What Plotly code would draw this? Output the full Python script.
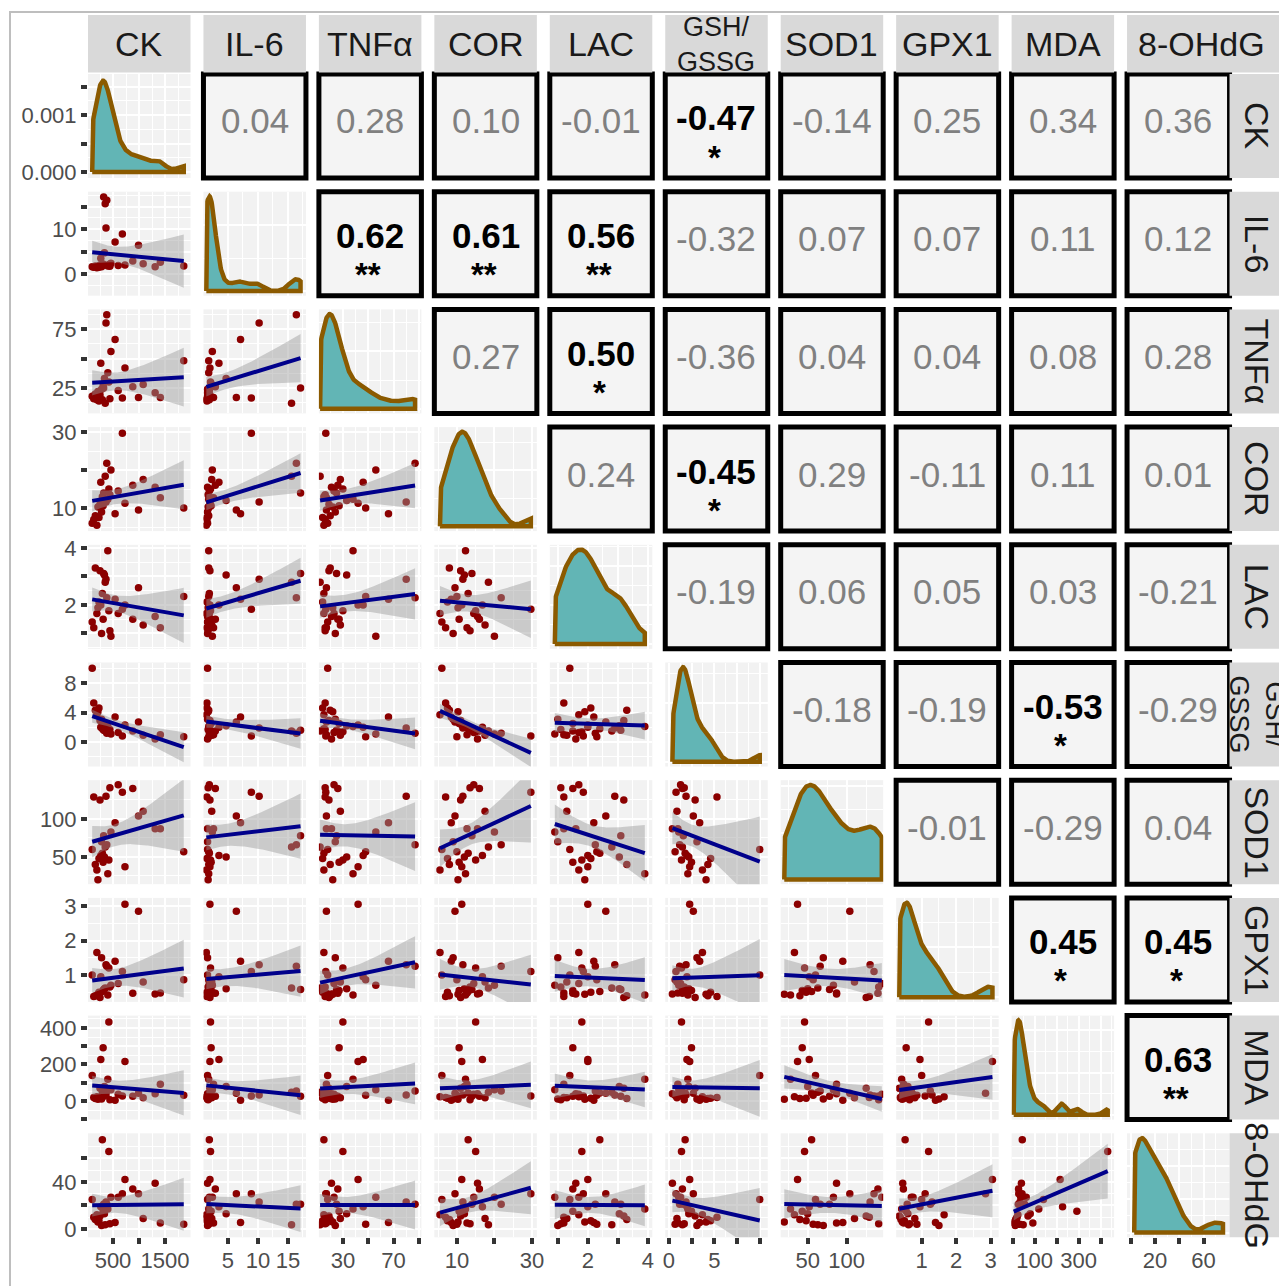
import numpy as np
import plotly.graph_objects as go

# ---------------------------------------------------------------- data
names = ["CK", "IL-6", "TNFα", "COR", "LAC", "GSH/GSSG", "SOD1", "GPX1", "MDA", "8-OHdG"]
strip_labels = ["CK", "IL-6", "TNFα", "COR", "LAC", "GSH/<br>GSSG",
                "SOD1", "GPX1", "MDA", "8-OHdG"]

ck = [100, 130, 160, 190, 210, 230, 250, 265, 280, 295,
      310, 320, 335, 350, 365, 380, 400, 420, 440, 460,
      540, 600, 680, 730, 880, 990, 1080, 1310, 1410, 1860]
il6 = [1.6, 1.5, 1.8, 1.4, 1.7, 1.5, 2.0, 3.5, 1.6, 1.9,
       2.2, 17.1, 4.7, 15.6, 10.2, 16.4, 1.8, 2.1, 1.7, 2.4,
       7.1, 1.9, 8.9, 2.0, 2.9, 6.4, 2.3, 1.6, 2.6, 1.8]
tnfa = [18, 16, 20, 15, 22, 14, 19, 46, 24, 15,
        27, 25, 33, 12, 80, 87, 38, 30, 16, 56,
        66, 23, 16.5, 42, 26, 17, 28, 21, 17, 48]
cor = [6.0, 7.0, 8.0, 5.5, 10.3, 7.5, 11.0, 16.8, 9.0, 13.0,
       10.6, 14.0, 12.0, 18.4, 11.6, 21.8, 12.3, 15.0, 13.5, 20.0,
       8.5, 14.5, 29.7, 11.3, 16.0, 9.5, 17.5, 15.5, 12.7, 10.0]
lac = [1.4, 1.2, 3.3, 1.7, 1.9, 2.1, 3.2, 2.0, 1.0, 2.4,
       1.5, 3.1, 3.05, 2.8, 2.9, 2.25, 3.9, 1.8, 1.1, 0.9,
       2.2, 1.7, 1.85, 2.0, 1.5, 2.6, 1.3, 1.6, 1.2, 2.3]
gsh_gssg = [10.0, 5.3, 4.3, 3.7, 4.1, 4.6, 2.9, 2.0, 3.1, 1.8,
            2.5, 1.6, 2.2, 1.5, 1.9, 1.2, 2.1, 1.4, 1.7, 1.1,
            3.4, 1.3, 0.8, 2.3, 1.5, 2.7, 0.9, 0.4, 1.0, 0.7]
sod1 = [60, 129, 40, 33, 20, 48, 125, 52, 70, 55,
        43, 78, 50, 63, 130, 66, 28, 46, 141, 83,
        95, 145, 135, 37, 140, 104, 110, 87, 87, 57]
gpx1 = [1.0, 0.38, 0.40, 1.65, 0.44, 0.50, 0.35, 0.95, 1.5, 0.52,
        0.55, 0.58, 0.60, 0.62, 1.3, 1.25, 0.42, 1.2, 0.65, 0.70,
        1.4, 0.75, 1.1, 3.05, 0.47, 2.85, 0.80, 0.45, 0.48, 0.86]
mda = [140, 20, 14, 24, 10, 16, 70, 227, 12, 44,
       292, 26, 80, 48, 34, 55, 119, 432, 8, 62,
       5, 37, 28, 216, 27, 43, 18, 40, 92, 32]
ohdg = [25, 10, 8, 12, 6, 7, 11, 19, 3, 76,
        15, 21, 13, 3.5, 23, 21, 17, 66, 4.5, 27,
        5.5, 27, 30, 42, 34, 30, 9, 39, 5, 4]
series = [ck, il6, tnfa, cor, lac, gsh_gssg, sod1, gpx1, mda, ohdg]

# correlation labels of the upper triangle, one list per row
corr_ck = [0.04, 0.28, 0.10, -0.01, -0.47, -0.14, 0.25, 0.34, 0.36]
corr_il6 = [0.62, 0.61, 0.56, -0.32, 0.07, 0.07, 0.11, 0.12]
corr_tnfa = [0.27, 0.50, -0.36, 0.04, 0.04, 0.08, 0.28]
corr_cor = [0.24, -0.45, 0.29, -0.11, 0.11, 0.01]
corr_lac = [-0.19, 0.06, 0.05, 0.03, -0.21]
corr_gsh = [-0.18, -0.19, -0.53, -0.29]
corr_sod1 = [-0.01, -0.29, 0.04]
corr_gpx1 = [0.45, 0.45]
corr_mda = [0.63]
corr_rows = [corr_ck, corr_il6, corr_tnfa, corr_cor, corr_lac,
             corr_gsh, corr_sod1, corr_gpx1, corr_mda]

stars_ck = ["", "", "", "", "*", "", "", "", ""]
stars_il6 = ["**", "**", "**", "", "", "", "", ""]
stars_tnfa = ["", "*", "", "", "", "", ""]
stars_cor = ["", "*", "", "", "", ""]
stars_lac = ["", "", "", "", ""]
stars_gsh = ["", "", "*", ""]
stars_sod1 = ["", "", ""]
stars_gpx1 = ["*", "*"]
stars_mda = ["**"]
star_rows = [stars_ck, stars_il6, stars_tnfa, stars_cor, stars_lac,
             stars_gsh, stars_sod1, stars_gpx1, stars_mda]

# tick labels (bottom axes per column, left axes per row)
x_tick_vals = [[500, 1000, 1500], [5, 10, 15], [30, 50, 70, 90], [10, 20, 30],
               [1, 2, 3, 4], [0, 2.5, 5, 7.5, 10], [50, 100], [1, 2, 3],
               [0, 100, 200, 300, 400], [0, 20, 40, 60]]
x_tick_text = [["500", "", "1500"], ["5", "10", "15"], ["30", "", "70", ""],
               ["10", "", "30"], ["", "2", "", "4"], ["0", "", "5", "", ""],
               ["50", "100"], ["1", "2", "3"], ["", "100", "", "300", ""],
               ["", "20", "", "60"]]
y_tick_vals = [[0, 0.0005, 0.001, 0.0015], [0, 5, 10, 15], [25, 50, 75],
               [10, 20, 30], [1, 2, 3, 4], [0, 4, 8], [50, 100], [1, 2, 3],
               [-100, 0, 100, 200, 300, 400], [0, 20, 40, 60]]
y_tick_text = [["0.000", "", "0.001", ""], ["0", "", "10", ""], ["25", "", "75"],
               ["10", "", "30"], ["", "2", "", "4"], ["0", "4", "8"],
               ["50", "100"], ["1", "2", "3"], ["", "0", "", "200", "", "400"],
               ["0", "", "40", ""]]

# ---------------------------------------------------------------- layout geometry
W, H = 1279, 1286
N = len(names)
PANEL_W, PANEL_H = 102.5, 104.0
col_left = [88 + 115.45 * i for i in range(N)]
row_top = [74 + 117.7 * j for j in range(N)]

x_ranges = [[19, 1990], [0.92, 18.0], [11.06, 92.0], [4.0, 31.3], [0.733, 4.15],
            [-0.385, 10.88], [15.4, 146.8], [0.26, 3.23], [-4.5, 461], [-2.9, 81.4]]
y_ranges = [[-0.000105, 0.00172], [-4.82, 18.29], [3.5, 91.6], [3.95, 31.3],
            [0.463, 4.11], [-3.32, 10.78], [14.2, 151], [0.22, 3.235],
            [-101, 467], [-7.1, 81.4]]

FONT = "Liberation Sans, Arial, sans-serif"
PT_COLOR = "#8B0000"
LINE_COLOR = "#00008B"
BAND_COLOR = "rgba(153,153,153,0.45)"
DENS_FILL = "#62B5B5"
DENS_LINE = "#8B5A00"
PANEL_BG = "#F2F2F2"


def px_x(p):
    return p / W


def px_y(p):
    return 1 - p / H


def minor_of(major, lo, hi):
    if len(major) < 2:
        return []
    d = major[1] - major[0]
    cand = [t - d / 2 for t in major] + [major[-1] + d / 2]
    return [v for v in cand if lo <= v <= hi]


def nice_ticks(hi):
    raw = hi / 3.0
    mag = 10 ** np.floor(np.log10(raw))
    step = 10 * mag
    for m in (1, 2, 2.5, 5, 10):
        if m * mag >= raw:
            step = m * mag
            break
    return [step * i for i in range(int(hi / step) + 1)]


def kde(v, npts=256):
    v = np.asarray(v, float)
    n = v.size
    q75, q25 = np.percentile(v, [75, 25])
    bw = 0.9 * min(v.std(ddof=1), (q75 - q25) / 1.34) * n ** -0.2
    gx = np.linspace(v.min(), v.max(), npts)
    gy = np.exp(-0.5 * ((gx[:, None] - v[None, :]) / bw) ** 2).sum(1) / (n * bw * np.sqrt(2 * np.pi))
    return gx, gy


def lm_band(x, y, npts=80):
    x = np.asarray(x, float)
    y = np.asarray(y, float)
    n = x.size
    b, a = np.polyfit(x, y, 1)
    gx = np.linspace(x.min(), x.max(), npts)
    fit = a + b * gx
    s = np.sqrt(((y - (a + b * x)) ** 2).sum() / (n - 2))
    sxx = ((x - x.mean()) ** 2).sum()
    se = s * np.sqrt(1 / n + (gx - x.mean()) ** 2 / sxx)
    t = 2.048  # 97.5% t quantile, 28 degrees of freedom
    return gx, fit, fit - t * se, fit + t * se


fig = go.Figure()
layout = {}
axis_common = dict(showline=False, zeroline=False, showgrid=True, gridcolor="white",
                   gridwidth=2, ticks="", showticklabels=False, fixedrange=True,
                   automargin=False)
tick_style = dict(ticks="outside", ticklen=6, tickwidth=4, tickcolor="#333333",
                  showticklabels=True, tickangle=0,
                  tickfont=dict(family=FONT, size=22, color="#4D4D4D"))

for r in range(N):
    for c in range(r + 1):
        k = r * N + c + 1
        xname = "x" if k == 1 else f"x{k}"
        yname = "y" if k == 1 else f"y{k}"
        xr = x_ranges[c]
        xa = dict(axis_common, domain=[px_x(col_left[c]), px_x(col_left[c] + PANEL_W)],
                  range=xr, anchor=yname, tickvals=x_tick_vals[c],
                  ticktext=x_tick_text[c],
                  minor=dict(tickvals=minor_of(x_tick_vals[c], *xr), showgrid=True,
                             gridcolor="white", gridwidth=1))
        if r == N - 1:
            xa.update(tick_style)
            xa["ticklabelstandoff"] = -3

        if r == c:
            gx, gy = kde(series[c])
            if r == 0:
                yr = y_ranges[0]
                yt, ytt = y_tick_vals[0], y_tick_text[0]
            else:
                dmax = gy.max()
                yr = [-0.05 * dmax, 1.05 * dmax]
                yt = nice_ticks(dmax * 1.05)
                ytt = [""] * len(yt)
            fig.add_trace(go.Scatter(
                x=np.r_[gx[0], gx, gx[-1], gx[0]], y=np.r_[0, gy, 0, 0],
                mode="lines", fill="toself", fillcolor=DENS_FILL,
                line=dict(color=DENS_LINE, width=4.5), xaxis=xname, yaxis=yname,
                hoverinfo="skip"))
        else:
            yr = y_ranges[r]
            yt, ytt = y_tick_vals[r], y_tick_text[r]
            xs, ys = series[c], series[r]
            fig.add_trace(go.Scatter(
                x=xs, y=ys, mode="markers",
                marker=dict(color=PT_COLOR, size=7.5, line=dict(width=0)),
                xaxis=xname, yaxis=yname, hoverinfo="skip"))
            gx, fit, lo, hi = lm_band(xs, ys)
            fig.add_trace(go.Scatter(
                x=np.r_[gx, gx[::-1]], y=np.r_[hi, lo[::-1]], mode="lines",
                fill="toself", fillcolor=BAND_COLOR, line=dict(width=0),
                xaxis=xname, yaxis=yname, hoverinfo="skip"))
            fig.add_trace(go.Scatter(
                x=gx, y=fit, mode="lines", line=dict(color=LINE_COLOR, width=4),
                xaxis=xname, yaxis=yname, hoverinfo="skip"))

        ya = dict(axis_common,
                  domain=[px_y(row_top[r] + PANEL_H), px_y(row_top[r])],
                  range=yr, anchor=xname, tickvals=yt, ticktext=ytt,
                  minor=dict(tickvals=minor_of(yt, *yr), showgrid=True,
                             gridcolor="white", gridwidth=1))
        if c == 0:
            ya.update(tick_style)
        layout["xaxis" if k == 1 else f"xaxis{k}"] = xa
        layout["yaxis" if k == 1 else f"yaxis{k}"] = ya

shapes = []
annotations = []


def note(xp, yp, text, size, color, angle=0):
    annotations.append(dict(xref="paper", yref="paper", x=px_x(xp), y=px_y(yp),
                            xanchor="center", yanchor="middle", text=text,
                            showarrow=False, textangle=angle,
                            font=dict(family=FONT, size=size, color=color)))


# correlation boxes
for r in range(N - 1):
    for j, val in enumerate(corr_rows[r]):
        c = r + 1 + j
        x0, x1 = col_left[c], col_left[c] + PANEL_W
        y0, y1 = row_top[r], row_top[r] + PANEL_H
        shapes.append(dict(type="rect", xref="paper", yref="paper",
                           x0=px_x(x0), x1=px_x(x1), y0=px_y(y1), y1=px_y(y0),
                           fillcolor="#F4F4F4", line=dict(color="black", width=5)))
        st = star_rows[r][j]
        xc = (x0 + x1) / 2
        yc = (y0 + y1) / 2
        label = f"{val:.2f}"
        if st:
            note(xc, yc - 8, f"<b>{label}</b>", 35, "black")
            note(xc - 2, yc + 31, f"<b>{st}</b>", 33, "black")
        else:
            note(xc, yc - 5, label, 35, "#808080")

# strips on top and on the right
for c in range(N):
    x0 = col_left[c]
    x1 = col_left[c] + PANEL_W if c < N - 1 else W + 20
    shapes.append(dict(type="rect", xref="paper", yref="paper",
                       x0=px_x(x0), x1=px_x(x1), y0=px_y(72.5), y1=px_y(15),
                       fillcolor="#D9D9D9", line=dict(width=0)))
    xc = (x0 + PANEL_W / 2) if c < N - 1 else 1201
    two = "<br>" in strip_labels[c]
    note(xc, 44, strip_labels[c], 27 if two else 34, "#1A1A1A")
for r in range(N):
    y0, y1 = row_top[r], row_top[r] + PANEL_H
    shapes.append(dict(type="rect", xref="paper", yref="paper",
                       x0=px_x(col_left[-1] + PANEL_W), x1=px_x(W + 20),
                       y0=px_y(y1), y1=px_y(y0),
                       fillcolor="#D9D9D9", line=dict(width=0)))
    two = "<br>" in strip_labels[r]
    note(1257, (y0 + y1) / 2, strip_labels[r], 27 if two else 34, "#1A1A1A", angle=90)

# outer frame
shapes.append(dict(type="rect", xref="paper", yref="paper",
                   x0=px_x(10), x1=px_x(W + 30), y0=px_y(H + 30), y1=px_y(12),
                   line=dict(color="#BEBEBE", width=2), fillcolor="rgba(0,0,0,0)"))

fig.update_layout(
    template="none",
    width=W, height=H, margin=dict(l=0, r=0, t=0, b=0, pad=0),
    paper_bgcolor="white", plot_bgcolor=PANEL_BG, showlegend=False,
    shapes=shapes, annotations=annotations, **layout)

fig.write_html("out.html", config={"displayModeBar": False},
               post_script="document.body.style.margin='0';")
